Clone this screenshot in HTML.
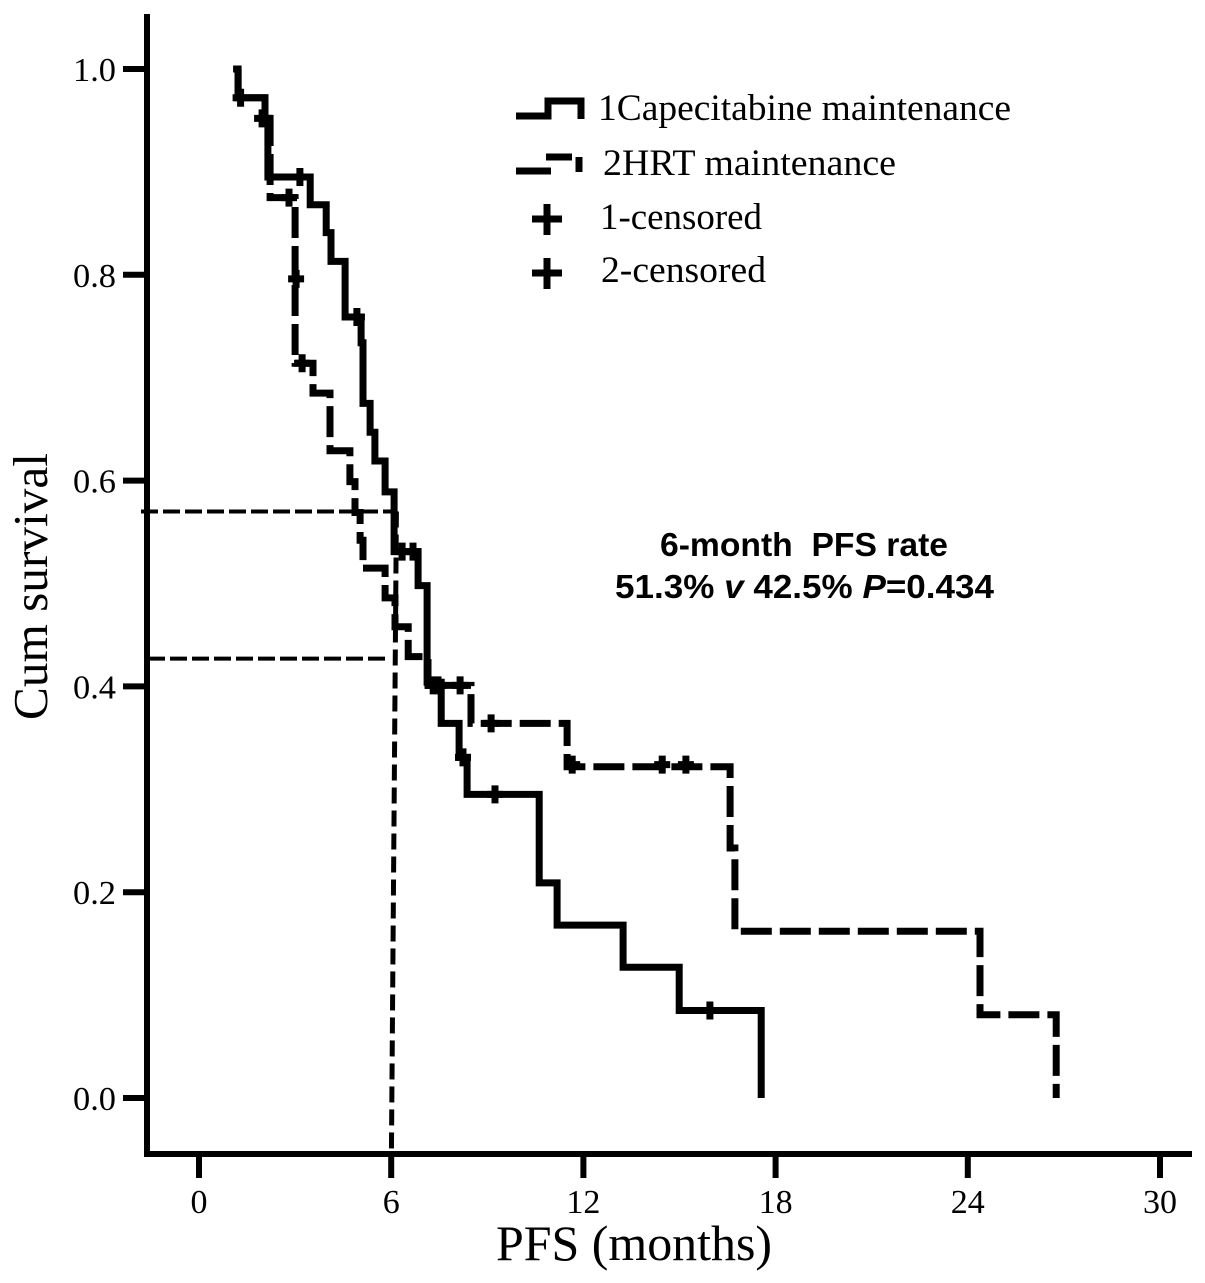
<!DOCTYPE html>
<html>
<head>
<meta charset="utf-8">
<title>Kaplan-Meier PFS chart</title>
<style>
html,body{margin:0;padding:0;background:#fff;}
svg{display:block;}
text{fill:#000;font-family:"Liberation Serif",serif;}
.bold{font-family:"Liberation Sans",sans-serif;font-weight:bold;}
</style>
</head>
<body>
<svg id="chart" xmlns="http://www.w3.org/2000/svg" width="1205" height="1283" viewBox="0 0 1205 1283">
  <rect width="1205" height="1283" fill="#fff"/>
  <g id="refs"></g>
  <g id="series"></g>
  <g id="axes"></g>

  <text transform="translate(47,720) rotate(-90)" font-size="49" textLength="267" lengthAdjust="spacingAndGlyphs">Cum survival</text>
  <text x="496" y="1260" font-size="50" textLength="276" lengthAdjust="spacingAndGlyphs">PFS (months)</text>

  <g>
    <path d="M516 116H548V101H581V119" fill="none" stroke="#000" stroke-width="7"/>
    <text x="598" y="120" font-size="37" textLength="413" lengthAdjust="spacingAndGlyphs">1Capecitabine maintenance</text>
    <path d="M516 171H551M546 157H572M579 157V172" fill="none" stroke="#000" stroke-width="7"/>
    <text x="603" y="175" font-size="37" textLength="293" lengthAdjust="spacingAndGlyphs">2HRT maintenance</text>
    <path d="M532 219H562M547 204V235" fill="none" stroke="#000" stroke-width="7"/>
    <text x="600" y="229" font-size="37" textLength="162" lengthAdjust="spacingAndGlyphs">1-censored</text>
    <path d="M532 273H562M547 258V289" fill="none" stroke="#000" stroke-width="7"/>
    <text x="601" y="282" font-size="37" textLength="165" lengthAdjust="spacingAndGlyphs">2-censored</text>
  </g>

  <g>
    <text class="bold" x="660" y="556" font-size="33" textLength="288" lengthAdjust="spacingAndGlyphs">6-month&#160; PFS rate</text>
    <text class="bold" x="615" y="598" font-size="33" textLength="379" lengthAdjust="spacingAndGlyphs">51.3% <tspan font-style="italic">v</tspan> 42.5% <tspan font-style="italic">P</tspan>=0.434</text>
  </g>
</svg>
<script>
// Axis tick labels
const xTicks = [0, 6, 12, 18, 24, 30];
const yTicks = [0.0, 0.2, 0.4, 0.6, 0.8, 1.0];

// Series 1: Capecitabine maintenance (event times in months, survival after each step)
const capeTimes = [1.22, 2.06, 2.15, 3.47, 3.97, 4.12, 4.56, 5.06, 5.12, 5.34, 5.49, 5.81, 6.09, 6.84, 7.12, 7.56, 8.12, 8.37, 10.62, 11.18, 13.24, 14.99, 17.55];
const capeSurvival = [0.972, 0.952, 0.895, 0.868, 0.841, 0.813, 0.759, 0.734, 0.675, 0.647, 0.619, 0.589, 0.531, 0.498, 0.404, 0.364, 0.331, 0.295, 0.209, 0.168, 0.127, 0.085, 0.0];

// Series 2: HRT maintenance
const hrtTimes = [1.22, 2.06, 2.22, 3.0, 3.56, 4.09, 4.71, 4.87, 5.03, 5.12, 5.81, 6.12, 6.53, 7.15, 8.49, 11.49, 16.58, 16.73, 24.38, 26.76];
const hrtSurvival = [0.972, 0.952, 0.875, 0.714, 0.685, 0.629, 0.599, 0.569, 0.542, 0.515, 0.486, 0.458, 0.429, 0.401, 0.364, 0.322, 0.243, 0.162, 0.081, 0.0];

// Censored observations
const capeCensorTimes = [1.3, 1.97, 3.15, 4.93, 6.34, 6.68, 7.31, 7.46, 8.15, 8.24, 9.24, 15.95];
const capeCensorSurvival = [0.972, 0.952, 0.895, 0.759, 0.531, 0.531, 0.401, 0.401, 0.401, 0.331, 0.295, 0.085];
const hrtCensorTimes = [2.81, 3.03, 3.22, 9.12, 11.65, 14.46, 15.2];
const hrtCensorSurvival = [0.875, 0.796, 0.714, 0.364, 0.324, 0.324, 0.324];

// Six-month reference values
const refMonth = 6.1;
const refCape = 0.57;
const refHrt = 0.427;

const NS = 'http://www.w3.org/2000/svg';
const xScale = m => 199 + m * (1160 - 199) / 30;
const yScale = s => 1098 - s * (1098 - 69);

function make(parent, tag, attrs, text) {
  const el = document.createElementNS(NS, tag);
  for (const k in attrs) el.setAttribute(k, attrs[k]);
  if (text !== undefined) el.textContent = text;
  parent.appendChild(el);
  return el;
}

function stepPath(times, surv, lead) {
  let d = 'M' + (xScale(times[0]) - lead).toFixed(1) + ' ' + yScale(1).toFixed(1);
  for (let i = 0; i < times.length; i++) {
    d += 'H' + xScale(times[i]).toFixed(1) + 'V' + yScale(surv[i]).toFixed(1);
  }
  return d;
}

const axes = document.getElementById('axes');
const series = document.getElementById('series');
const refs = document.getElementById('refs');

// Reference lines
const refA = make(refs, 'line', {x1: 141, y1: yScale(refCape), x2: xScale(refMonth) + 2, y2: yScale(refCape), stroke: '#000', 'stroke-width': 4, 'stroke-dasharray': '17 5'});


const refB = make(refs, 'line', {x1: 148, y1: yScale(refHrt), x2: xScale(refMonth) - 6, y2: yScale(refHrt), stroke: '#000', 'stroke-width': 4, 'stroke-dasharray': '17 5'});


const refC = make(refs, 'line', {x1: xScale(refMonth) + 2, y1: yScale(refCape), x2: xScale(refMonth) - 3, y2: 1155, stroke: '#000', 'stroke-width': 5, 'stroke-dasharray': '16 7'});



// Series lines
const hrtLine = make(series, 'path', {d: stepPath(hrtTimes, hrtSurvival, 0), fill: 'none', stroke: '#000', 'stroke-width': 7, 'stroke-dasharray': '31 8'});


const capeLine = make(series, 'path', {d: stepPath(capeTimes, capeSurvival, 5), fill: 'none', stroke: '#000', 'stroke-width': 7});



// Censor marks
function censorPath(times, surv) {
  let d = '';
  for (let i = 0; i < times.length; i++) {
    const cx = xScale(times[i]), cy = yScale(surv[i]);
    d += 'M' + (cx - 8).toFixed(1) + ' ' + cy.toFixed(1) + 'h16M' + cx.toFixed(1) + ' ' + (cy - 9).toFixed(1) + 'v18';
  }
  return d;
}
const capeCensors = make(series, 'path', {d: censorPath(capeCensorTimes, capeCensorSurvival), fill: 'none', stroke: '#000', 'stroke-width': 7});


const hrtCensors = make(series, 'path', {d: censorPath(hrtCensorTimes, hrtCensorSurvival), fill: 'none', stroke: '#000', 'stroke-width': 7});



// Axes
const yAxis = make(axes, 'line', {x1: 147, y1: 14, x2: 147, y2: 1156, stroke: '#000', 'stroke-width': 6});


const xAxis = make(axes, 'line', {x1: 144, y1: 1154, x2: 1192, y2: 1154, stroke: '#000', 'stroke-width': 6});



xTicks.forEach(v => {
  const px = xScale(v);
  const tick = make(axes, 'line', {x1: px, y1: 1155, x2: px, y2: 1178, stroke: '#000', 'stroke-width': 6});
  
  
  const label = make(axes, 'text', {x: px, y: 1213, 'font-size': 34, 'text-anchor': 'middle'}, String(v));
  
  
});

yTicks.forEach(v => {
  const py = yScale(v);
  const tick = make(axes, 'line', {x1: 123, y1: py, x2: 147, y2: py, stroke: '#000', 'stroke-width': 6});
  
  
  const label = make(axes, 'text', {x: 73, y: py + 12, 'font-size': 34, textLength: 43, lengthAdjust: 'spacingAndGlyphs'}, v.toFixed(1));
  
  
});
</script>
</body>
</html>
